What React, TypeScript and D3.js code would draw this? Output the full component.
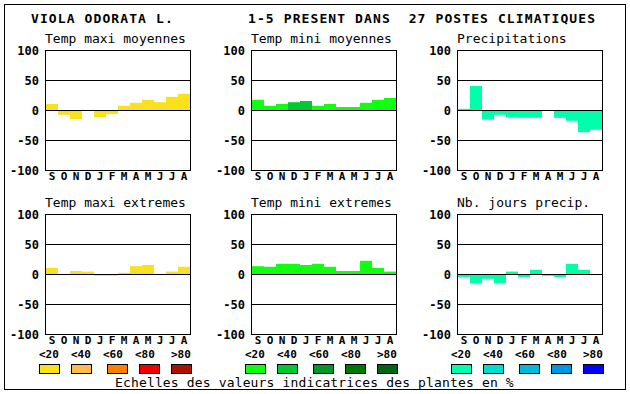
import * as d3 from "d3";
import React from "react";

// months (sept -> aout)
const months = ["S", "O", "N", "D", "J", "F", "M", "A", "M", "J", "J", "A"];
const yTicks = [100, 50, 0, -50, -100];
const gridTicks = [50, 0, -50];
const legendLabels = ["<20", "<40", "<60", "<80", ">80"];

const titles = [
  "Temp maxi moyennes",
  "Temp mini moyennes",
  "Precipitations",
  "Temp maxi extremes",
  "Temp mini extremes",
  "Nb. jours precip.",
];

// valeurs
const maxiMoy = [10, -8, -15, 0, -12, -7, 7, 12, 17, 13, 22, 27];
const miniMoy = [17, 7, 10, 13, 15, 7, 10, 5, 5, 12, 17, 20];
const precip = [2, 40, -16, -8, -12, -13, -13, 0, -13, -18, -37, -33];
const maxiExt = [10, 0, 5, 4, -3, -3, 2, 13, 15, 0, 4, 12];
const miniExt = [13, 12, 17, 17, 15, 17, 12, 5, 5, 22, 10, 4];
const joursPrecip = [-5, -15, -8, -15, 4, -5, 7, -3, -5, 17, 7, 0];

// classe de couleur (0..4) de chaque barre
const zeroLevels = [0, 0, 0, 0, 0, 0, 0, 0, 0, 0, 0, 0];
const miniMoyLevels = [0, 0, 0, 1, 1, 0, 0, 0, 0, 0, 0, 0];

const warm = ["#f9e21b", "#ffbb50", "#ff8000", "#ee0000", "#aa1100"];
const greens = ["#10ff10", "#00c832", "#009628", "#007800", "#006414"];
const blues = ["#00ffaa", "#00dccc", "#00b9dc", "#0096e6", "#0000ff"];
const palettes = [warm, greens, blues];

const series = [maxiMoy, miniMoy, precip, maxiExt, miniExt, joursPrecip];
const levels = [zeroLevels, miniMoyLevels, zeroLevels, zeroLevels, zeroLevels, zeroLevels];

const colX = [45, 251, 457];
const rowY = [50, 214];
const plotW = 145;
const plotH = 120;
const mono = "'DejaVu Sans Mono', monospace";

function Panel({ idx }: { idx: number }) {
  const col = idx % 3;
  const row = Math.floor(idx / 3);
  const x0 = colX[col];
  const top = rowY[row];
  const data = series[idx];
  const lv = levels[idx];
  const pal = palettes[col];

  const x = d3
    .scaleBand<number>()
    .domain(d3.range(months.length))
    .range([x0 + 1, x0 + plotW]);
  const y = d3.scaleLinear().domain([-100, 100]).range([top + plotH, top]);

  return (
    <g>
      <text x={x0} y={top - 7} fontSize={13} fontFamily={mono} fill="#000">
        {titles[idx]}
      </text>
      {data.map((v, i) =>
        v === 0 ? null : (
          <rect
            key={i}
            x={x(i)}
            width={x.bandwidth()}
            y={Math.min(y(v), y(0))}
            height={Math.abs(y(v) - y(0))}
            fill={pal[lv[i]]}
          />
        )
      )}
      {gridTicks.map((t) => (
        <line
          key={t}
          x1={x0}
          x2={x0 + plotW}
          y1={y(t) + 0.5}
          y2={y(t) + 0.5}
          stroke="#000"
        />
      ))}
      <rect
        x={x0 + 0.5}
        y={top + 0.5}
        width={plotW}
        height={plotH}
        fill="none"
        stroke="#000"
      />
      {yTicks.map((t) => (
        <text
          key={t}
          x={x0 - 6}
          y={y(t) + 1}
          textAnchor="end"
          dominantBaseline="central"
          fontSize={12}
          fontWeight="bold"
          fontFamily={mono}
        >
          {t}
        </text>
      ))}
      {months.map((m, i) => (
        <text
          key={i}
          x={x(i)! + x.bandwidth() / 2}
          y={top + plotH + 10}
          textAnchor="middle"
          fontSize={11}
          fontWeight="bold"
          fontFamily={mono}
        >
          {m}
        </text>
      ))}
    </g>
  );
}

function Legend({ col }: { col: number }) {
  const bx = colX[col] - 6;
  const boxOff = [0, 32, 68, 100, 132];
  const labOff = [0, 32, 64, 96, 132];
  return (
    <g>
      {legendLabels.map((l, i) => (
        <text
          key={l}
          x={bx + labOff[i]}
          y={358}
          fontSize={11}
          fontWeight="bold"
          fontFamily={mono}
        >
          {l}
        </text>
      ))}
      {palettes[col].map((c, i) => (
        <rect
          key={c}
          x={bx + boxOff[i] + 0.5}
          y={364.5}
          width={20}
          height={9}
          fill={c}
          stroke="#000"
        />
      ))}
    </g>
  );
}

export default function App() {
  return (
    <svg
      width={630}
      height={394}
      style={{ position: "absolute", left: 0, top: 0, background: "#fff" }}
    >
      <rect x={4.5} y={4.5} width={621} height={385} fill="none" stroke="#000" />
      <text
        x={31}
        y={23}
        fontSize={13}
        fontWeight="bold"
        letterSpacing={1.1}
        fontFamily={mono}
        style={{ whiteSpace: "pre" }}
      >
        VIOLA ODORATA L.
      </text>
      <text
        x={248}
        y={23}
        fontSize={13}
        fontWeight="bold"
        letterSpacing={1.1}
        fontFamily={mono}
        style={{ whiteSpace: "pre" }}
      >
        {"1-5 PRESENT DANS  27 POSTES CLIMATIQUES"}
      </text>
      {titles.map((_, i) => (
        <Panel key={i} idx={i} />
      ))}
      {[0, 1, 2].map((c) => (
        <Legend key={c} col={c} />
      ))}
      <text
        x={115}
        y={387}
        fontSize={13}
        letterSpacing={0.15}
        fontFamily={mono}
      >
        Echelles des valeurs indicatrices des plantes en %
      </text>
    </svg>
  );
}
